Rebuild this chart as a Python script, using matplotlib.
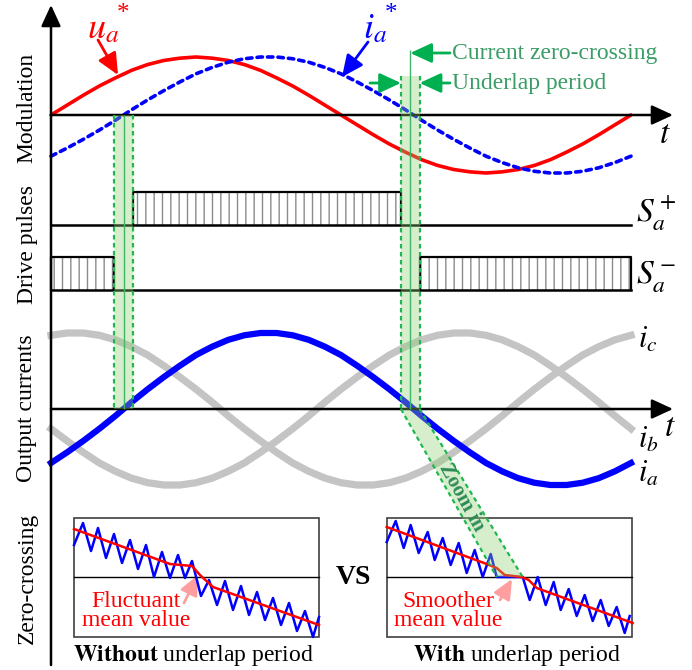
import numpy as np
import matplotlib.pyplot as plt
from matplotlib.patches import Rectangle, Polygon
from matplotlib.transforms import Affine2D

plt.rcParams['font.family'] = ['Liberation Serif', 'DejaVu Serif']
plt.rcParams['mathtext.fontset'] = 'stix'
plt.rcParams['hatch.linewidth'] = 1.0

# one period, electrical angle in degrees (10 deg steps)
angle = list(range(0, 361, 10))
# references (per unit)
u_ref = [0, .17, .34, .5, .64, .77, .87, .94, .98, 1, .98, .94, .87, .77, .64, .5, .34, .17, 0,
         -.17, -.34, -.5, -.64, -.77, -.87, -.94, -.98, -1, -.98, -.94, -.87, -.77, -.64, -.5, -.34, -.17, 0]
i_ref = [-.71, -.57, -.42, -.26, -.09, .09, .26, .42, .57, .71, .82, .91, .97, 1, 1, .97, .91, .82, .71,
         .57, .42, .26, .09, -.09, -.26, -.42, -.57, -.71, -.82, -.91, -.97, -1, -1, -.97, -.91, -.82, -.71]
# output phase currents (per unit)
i_a = [-.71, -.57, -.42, -.26, -.09, .09, .26, .42, .57, .71, .82, .91, .97, 1, 1, .97, .91, .82, .71,
       .57, .42, .26, .09, -.09, -.26, -.42, -.57, -.71, -.82, -.91, -.97, -1, -1, -.97, -.91, -.82, -.71]
i_b = [-.26, -.42, -.57, -.71, -.82, -.91, -.97, -1, -1, -.97, -.91, -.82, -.71, -.57, -.42, -.26, -.09, .09, .26,
       .42, .57, .71, .82, .91, .97, 1, 1, .97, .91, .82, .71, .57, .42, .26, .09, -.09, -.26]
i_c = [.97, 1, 1, .97, .91, .82, .71, .57, .42, .26, .09, -.09, -.26, -.42, -.57, -.71, -.82, -.91, -.97,
       -1, -1, -.97, -.91, -.82, -.71, -.57, -.42, -.26, -.09, .09, .26, .42, .57, .71, .82, .91, .97]

zero_cross = [45, 223]   # deg, zero-crossings of i_a*
underlap = 5.8           # deg, half width of the underlap period

# zoomed waveforms near the zero-crossing (x along box, y above zero line)
wo_x = [0, 9, 17, 24, 32, 40, 48, 56, 64, 72, 80, 88, 96, 104, 111, 118,
        127, 135, 143, 151, 159, 167, 175, 183, 191, 199, 207, 215, 223, 231, 239, 245]
wo_i = [32, 54, 26, 49, 19, 43, 14, 37, 8, 32, 0, 25, -1, 22, -1, 16,
        -19, -3, -28, -4, -33, -9, -38, -15, -43, -21, -48, -26, -54, -34, -60, -40]
wo_mean_x = [0, 96, 118, 126, 139, 245]
wo_mean = [48, 13, 11, 2, -10, -48]

w_x = [0, 9, 17, 24, 32, 41, 48, 56, 64, 72, 80, 88, 96, 104, 110, 136,
       143, 151, 159, 167, 174, 182, 190, 198, 206, 214, 222, 230, 238, 243]
w_i = [35, 56, 29, 52, 24, 45, 17, 39, 12, 34, 4, 27, 0, 23, 0, 0,
       -23, 0, -28, -5, -33, -12, -39, -18, -44, -23, -49, -30, -56, -39]
w_mean_x = [0, 100, 110, 118, 135, 142, 150, 246]
w_mean = [50, 13, 9, 2, 0, -3, -11, -46]

fig = plt.figure(figsize=(6.92, 6.70), dpi=100)
ax = fig.add_axes([0, 0, 1, 1])
ax.set_xlim(0, 692)
ax.set_ylim(670, 0)
ax.axis('off')

X0, W = 51, 580
def panel(y0, amp, x0=X0, sx=W / 360):
    return Affine2D().scale(sx, -amp).translate(x0, y0) + ax.transData
def px(a):
    return X0 + a * W / 360

mod = panel(115, 58)
cur = panel(409, 76)
s_pos = panel(225, 33)
s_neg = panel(290, 33)
box_l = panel(577, 1, 74, 1)
box_r = panel(577, 1, 386.7, 1)

GREEN = '#1fb850'
FILL = '#8fd070'

def arr(tip, tail, color, lw=1.8, hl=1.3, hw=0.6):
    ax.annotate('', xy=tip, xytext=tail,
                arrowprops=dict(arrowstyle=f'-|>,head_length={hl},head_width={hw}',
                                color=color, lw=lw, shrinkA=0, shrinkB=0,
                                mutation_scale=10))

# axes
arr((51, 5), (51, 665), 'k', lw=1.8)
arr((673, 115), (51, 115), 'k', lw=1.8)
arr((673, 409), (51, 409), 'k', lw=1.8)
ax.text(665, 135, '$t$', fontsize=24, ha='center', va='center')
ax.text(670, 428, '$t$', fontsize=24, ha='center', va='center')

# modulation
ax.plot(angle, u_ref, transform=mod, color='red', lw=2.6, solid_capstyle='round')
ax.plot(angle, i_ref, transform=mod, color='blue', lw=2.6,
        linestyle=(0, (1.5, 1.4)), dash_capstyle='round')

# output currents
ax.plot(angle, i_b, transform=cur, color='#c4c4c4', lw=5.2)
ax.plot(angle, i_c, transform=cur, color='#c4c4c4', lw=5.2)
ax.plot(angle, i_a, transform=cur, color='blue', lw=4.5)

# drive pulses
def pulse(tr, a0, a1):
    ax.add_patch(Rectangle((a0, 0), a1 - a0, 1, transform=tr, fill=False,
                           hatch='||', edgecolor='#8a8a8a', lw=0))
    ax.plot([a0, a0, a1, a1], [0, 1, 1, 0], transform=tr, color='k', lw=1.6)

for tr in (s_pos, s_neg):
    ax.plot([0, 360], [0, 0], transform=tr, color='k', lw=1.8)
pulse(s_pos, zero_cross[0] + underlap, zero_cross[1] - underlap)
pulse(s_neg, 0, zero_cross[0] - underlap)
pulse(s_neg, zero_cross[1] + underlap, 360)

# underlap bands
for zc, top, ltop in zip(zero_cross, (115, 76), (115, 50)):
    a, b = px(zc - underlap), px(zc + underlap)
    ax.add_patch(Rectangle((a, top), b - a, 409 - top, facecolor=FILL,
                           alpha=0.35, lw=0, zorder=5))
    ax.vlines([a, b], top, 409, colors=GREEN, lw=1.6,
              linestyles=(0, (2, 1.6)), zorder=6)
    ax.vlines(px(zc), ltop, 409, colors='#3cb868', lw=1.0, zorder=6)

# zoom-in band
a, b = px(zero_cross[1] - underlap), px(zero_cross[1] + underlap)
ax.add_patch(Polygon([(a, 409), (b, 409), (522.7, 577), (496.7, 577)],
                     facecolor=FILL, alpha=0.35, lw=0, zorder=7))
ax.plot([a, 496.7], [409, 577], color=GREEN, lw=1.6, ls=(0, (2, 1.6)), zorder=8)
ax.plot([b, 522.7], [409, 577], color=GREEN, lw=1.6, ls=(0, (2, 1.6)), zorder=8)
ax.text(461, 497, 'Zoom in', rotation=-61, fontsize=15, fontweight='bold',
        color='#2e8b57', ha='center', va='center', zorder=9)

# labels
ax.text(103, 30, '$u_a$', color='red', fontsize=26, ha='center', va='center')
ax.text(123, 14, '*', color='red', fontsize=18, ha='center', va='center')
arr((118, 75), (98, 40), 'red', lw=2)
ax.text(375, 30, '$i_a$', color='blue', fontsize=26, ha='center', va='center')
ax.text(391, 14, '*', color='blue', fontsize=18, ha='center', va='center')
arr((342, 77), (368, 42), 'blue', lw=2)

ax.text(452, 53, 'Current zero-crossing', fontsize=17, color='#3a9d65', va='center')
ax.text(452, 83, 'Underlap period', fontsize=17, color='#3a9d65', va='center')
arr((px(zero_cross[1]), 53), (450, 53), '#00b050', lw=2)
arr((a, 83), (370, 83), '#00b050', lw=2)
arr((b, 83), (450, 83), '#00b050', lw=2)

ax.text(636, 214, '$S_a^+$', fontsize=24, va='center')
ax.text(636, 276, '$S_a^-$', fontsize=24, va='center')
ax.text(638, 340, '$i_c$', fontsize=22, va='center')
ax.text(638, 440, '$i_b$', fontsize=22, va='center')
ax.text(638, 474, '$i_a$', fontsize=22, va='center')

for y, s in [(108, 'Modulation'), (245, 'Drive pulses'),
             (408, 'Output currents'), (578, 'Zero-crossing')]:
    ax.text(27, y, s, rotation=90, fontsize=17, ha='center', va='center')

# zoomed insets
for x0, tr in ((74, box_l), (386.7, box_r)):
    ax.add_patch(Rectangle((x0, 517.7), 245, 119, facecolor='white',
                           edgecolor='#404040', lw=1.2, zorder=3))
    ax.plot([x0, x0 + 245], [577, 577], color='k', lw=1.0, zorder=4)
ax.plot(wo_x, wo_i, transform=box_l, color='blue', lw=1.8, zorder=4)
ax.plot(wo_mean_x, wo_mean, transform=box_l, color='red', lw=1.8, zorder=4)
ax.plot(w_x, w_i, transform=box_r, color='blue', lw=1.8, zorder=4)
ax.plot(w_mean_x, w_mean, transform=box_r, color='red', lw=1.8, zorder=4)

ax.text(136, 611, 'Fluctuant\nmean value', fontsize=17, color='red',
        ha='center', va='center', linespacing=0.9, zorder=9)
ax.text(448, 611, 'Smoother\nmean value', fontsize=17, color='red',
        ha='center', va='center', linespacing=0.9, zorder=9)
arr((198, 575), (184, 603), '#ff9e9e', lw=2, hl=1.2, hw=0.55)
arr((512, 579), (500, 600), '#ff9e9e', lw=2, hl=1.2, hw=0.55)

ax.text(353, 577, 'VS', fontsize=20, fontweight='bold', ha='center', va='center')
ax.text(193, 655, r'$\mathbf{Without}$ underlap period', fontsize=17,
        ha='center', va='center')
ax.text(517, 655, r'$\mathbf{With}$ underlap period', fontsize=17,
        ha='center', va='center')

fig.savefig('out.png', dpi=100)
